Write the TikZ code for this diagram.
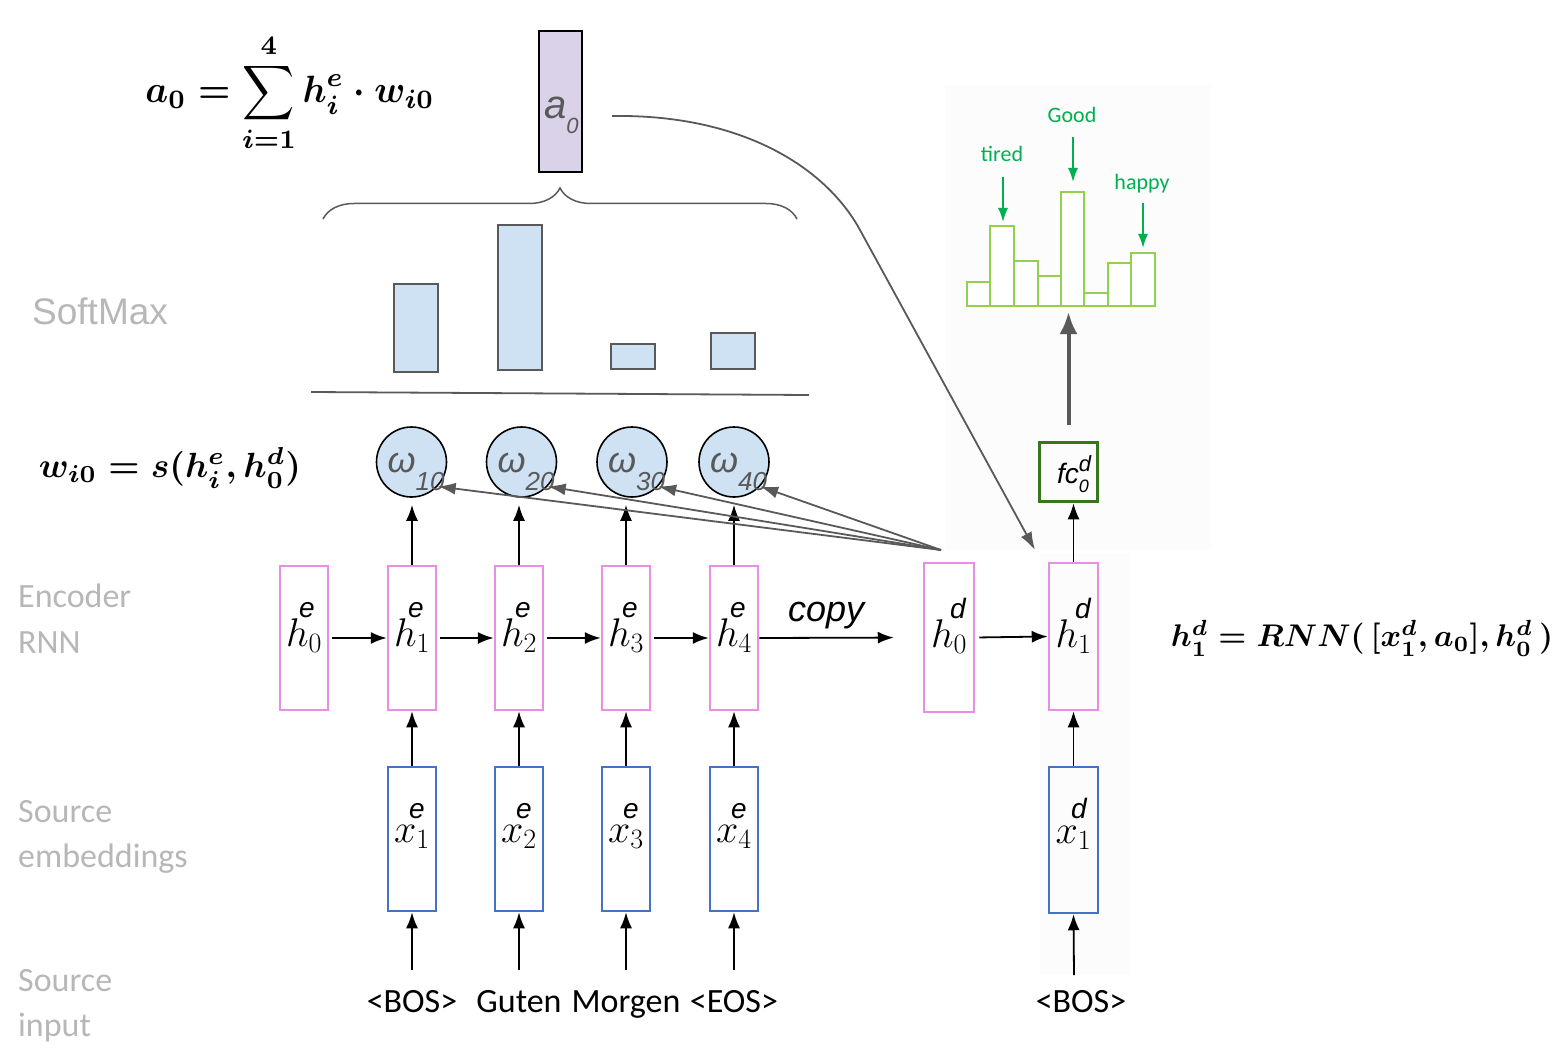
\RequirePackage{fix-cm}
\documentclass[tikz,border=0pt]{standalone}
\usepackage{fontspec}
\usepackage{amsmath}
\usetikzlibrary{arrows.meta,decorations.pathreplacing}
\newfontfamily\arial{Liberation Sans}
\newfontfamily\calib{Carlito}
\definecolor{pinkb}{RGB}{232,143,228}
\definecolor{blueb}{RGB}{68,114,196}
\definecolor{lblue}{RGB}{207,226,243}
\definecolor{lav}{RGB}{217,210,233}
\definecolor{dgray}{RGB}{89,89,89}
\definecolor{lgray}{RGB}{183,183,183}
\definecolor{gtext}{RGB}{0,176,80}
\definecolor{ghist}{RGB}{146,208,80}
\definecolor{fcg}{RGB}{56,118,29}
\definecolor{bgl}{RGB}{252,252,252}
\newcommand{\fs}[1]{\fontsize{#1}{#1}\selectfont}
\tikzset{
 hbx/.style={draw=pinkb, line width=2.5pt, minimum width=48pt, minimum height=144pt, inner sep=0pt},
 xbx/.style={draw=blueb, line width=2.5pt, minimum width=48pt, minimum height=144pt, inner sep=0pt},
 circ/.style={circle, draw=black, fill=lblue, line width=1.6pt, minimum size=70pt, inner sep=0pt},
 arr/.style={-{Latex[length=16pt,width=12pt]}, line width=1.8pt},
 garr/.style={-{Latex[length=18pt,width=12pt]}, draw=dgray, line width=1.8pt},
 grnarr/.style={-{Latex[length=14pt,width=10pt]}, draw=gtext, line width=1.8pt},
 supl/.style={font=\arial\itshape\fs{28}, inner sep=0pt, anchor=base},
 mainl/.style={font=\fs{40}, inner sep=0pt, anchor=base},
 side/.style={font=\calib\fs{34}, text=lgray, inner sep=0pt, anchor=base west},
 word/.style={font=\calib\fs{34}, inner sep=0pt, anchor=base},
 sbar/.style={draw=dgray, fill=lblue, line width=1.8pt},
 hbar/.style={draw=ghist, fill=white, line width=2.5pt},
 glabel/.style={anchor=base, inner sep=0pt, text=gtext, font=\calib\fs{22}},
}
\begin{document}
\begin{tikzpicture}[x=1pt,y=-1pt]
\useasboundingbox (0,0) rectangle (1564,1051);
\fill[bgl] (945,85) rectangle (1210,549);
\fill[bgl] (1040,553) rectangle (1130,975);

% formulas
\node[inner sep=0pt] (fa) at (290,93) {\resizebox*{289pt}{118pt}{\boldmath$\displaystyle a_0 = \sum_{i=1}^{4} h_i^e \cdot w_{i0}$}};
\node[inner sep=0pt] (fw) at (170,468) {\resizebox{262pt}{!}{\boldmath$w_{i0} = s(h_i^e, h_0^d)$}};
\node[inner sep=0pt] (fr) at (1362,638) {\resizebox{382pt}{!}{\boldmath$h_1^d = RNN(\,[x_1^d, a_0], h_0^d\,)$}};

% a0 box
\node[draw=black, fill=lav, line width=2pt, minimum width=43pt, minimum height=141pt, inner sep=0pt] (a0) at (560,102) {};
\node[anchor=base west, inner sep=0pt, text=dgray, font=\arial\itshape\fs{40}] (a0l) at (544,119) {a\raisebox{-15pt}{\fs{22}0}};

% brace
\draw[dgray, line width=1.5pt, decorate, decoration={brace, amplitude=31pt}] (323,219) -- (797,219);

% softmax bars
\draw[sbar] (394,284) rectangle (438,372);
\draw[sbar] (498,225) rectangle (542,370);
\draw[sbar] (611,344) rectangle (655,369);
\draw[sbar] (711,333) rectangle (755,369);
\draw[dgray, line width=1.8pt] (311,392) -- (809,395);
\node[anchor=base west, inner sep=0pt, text=lgray, font=\arial\fs{37}] (sm) at (32,324) {SoftMax};

% side labels
\node[side] (enc1) at (18,607) {Encoder};
\node[side] (enc2) at (18,653) {RNN};
\node[side] (se1) at (18,822) {Source};
\node[side] (se2) at (18,867) {embeddings};
\node[side] (si1) at (18,991) {Source};
\node[side] (si2) at (18,1036) {input};

% attention circles
\foreach \i/\cx in {1/411.5,2/521.5,3/632,4/734} {
  \node[circ] (w\i) at (\cx,462) {};
  \node[anchor=base west, inner sep=0pt, text=dgray, font=\arial\itshape\fs{36}] (wl\i) at (\cx-24,472) {ω\raisebox{-18pt}{\fs{26}\i0}};
}

% encoder
\node[hbx] (he0) at (304,638) {};
\node[supl] (hes0) at (307,617) {e};
\node[mainl] (hel0) at (304,646) {$h_0$};
\foreach \i/\cx/\wrd in {1/412/{<BOS>},2/519/{Guten},3/626/{Morgen},4/734/{<EOS>}} {
  \node[hbx] (he\i) at (\cx,638) {};
  \node[supl] (hes\i) at (\cx+4,617) {e};
  \node[mainl] (hel\i) at (\cx,646) {$h_\i$};
  \node[xbx] (xe\i) at (\cx,839) {};
  \node[supl] (xes\i) at (\cx+5,818) {e};
  \node[mainl] (xel\i) at (\cx,842) {$x_\i$};
  \node[word] (wd\i) at (\cx,1012) {\wrd};
  \coordinate (in\i) at (\cx,970);
  \draw[arr] (in\i) -- (xe\i.south);
  \draw[arr] (xe\i.north) -- (he\i.south);
  \draw[arr, shorten >=7pt] (he\i.north) -- (he\i.north |- w\i.south);
}
\draw[arr, shorten <=3pt] (he0.east) -- (he1.west);
\draw[arr, shorten <=3pt] (he1.east) -- (he2.west);
\draw[arr, shorten <=3pt] (he2.east) -- (he3.west);
\draw[arr, shorten <=3pt] (he3.east) -- (he4.west);

% decoder
\node[hbx, minimum width=50pt, minimum height=149pt] (hd0) at (949,637.5) {};
\node[supl] (hds0) at (958,618) {d};
\node[mainl] (hdl0) at (949,647) {$h_0$};
\node[hbx, minimum width=49pt, minimum height=147pt] (hd1) at (1073.5,636.5) {};
\node[supl] (hds1) at (1083,618) {d};
\node[mainl] (hdl1) at (1073.5,647) {$h_1$};
\node[xbx, minimum width=49pt, minimum height=146pt] (xd1) at (1073.5,840) {};
\node[supl] (xds1) at (1079,818) {d};
\node[mainl] (xdl1) at (1073.5,843) {$x_1$};
\node[word] (wd5) at (1081,1012) {<BOS>};
\coordinate (ind) at (1074,975);
\draw[arr] (ind) -- (xd1.south);
\draw[arr] (xd1.north) -- (hd1.south);
\draw[arr, shorten >=29pt] (he4.east) -- (hd0.west);
\node[anchor=base west, inner sep=0pt, font=\arial\itshape\fs{36}] (copy) at (788,621) {copy};
\draw[arr, shorten <=4pt] (hd0.east) -- (hd1.west);

% fc
\node[draw=fcg, line width=3.5pt, minimum width=58pt, minimum height=59pt, inner sep=0pt] (fc) at (1068.5,472) {};
\node[anchor=base west, inner sep=0pt, font=\arial\itshape\fs{28}] (fcl) at (1057,483) {fc\rlap{\raisebox{12pt}{\fs{22}d}}\raisebox{-9pt}{\fs{18}0}};
\draw[arr] (hd1.north) -- (hd1.north |- fc.south);

% attention arrows from decoder state
\coordinate (src) at (941,550);
\foreach \i in {1,...,4} { \draw[garr] (src) -- (w\i.-43); }

% context curve
\coordinate (cs) at (612,116);
\coordinate (ce) at (1035,550);
\draw[garr] (cs) .. controls (740,114) and (825,166) .. (860,230) -- (ce);

% histogram
\foreach \a/\b/\t in {967/990/282, 990/1014/226, 1014/1038/261, 1038/1061/276, 1061/1084/192, 1084/1108/293, 1108/1131/263, 1131/1155/253} {
  \draw[hbar] (\a,306) rectangle (\b,\t);
}
\coordinate (histb) at (1068.5,312);
\draw[line width=4pt, dgray, -{Latex[length=22pt,width=18pt]}] ([yshift=16pt]fc.north) -- (histb);

% green labels
\node[glabel] (tired) at (1002,162) {tired};
\node[glabel] (good) at (1072,123) {Good};
\node[glabel] (happy) at (1142,190) {happy};
\coordinate (t1) at (1003,222);
\coordinate (t2) at (1073,182);
\coordinate (t3) at (1143,248);
\draw[grnarr] ([xshift=1pt,yshift=-15pt]tired.base) -- (t1);
\draw[grnarr] ([xshift=1pt,yshift=-14pt]good.base) -- (t2);
\draw[grnarr] ([xshift=1pt,yshift=-13pt]happy.base) -- (t3);
\end{tikzpicture}
\end{document}
